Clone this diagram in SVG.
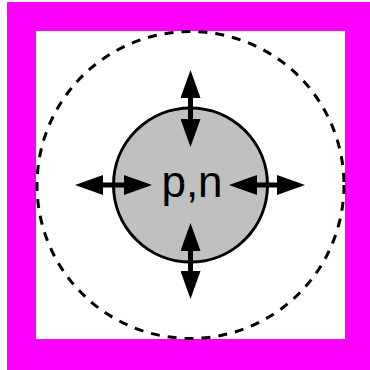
<svg xmlns="http://www.w3.org/2000/svg" width="370" height="370" viewBox="0 0 370 370">
  <style>
    .frame { fill: #ff00ff; fill-rule: evenodd; }
    .outer { fill: none; stroke: #000; stroke-width: 3; stroke-dasharray: 9 8; }
    .core { fill: #c0c0c0; stroke: #000; stroke-width: 3; }
    .label { font-family: "Liberation Sans", Arial, sans-serif; font-size: 44px; fill: #000; text-anchor: middle; }
    .arrow { stroke: #000; stroke-width: 5; fill: none; marker-start: url(#head); marker-end: url(#head); }
  </style>
  <defs>
    <marker id="head" markerUnits="userSpaceOnUse" markerWidth="28" markerHeight="20" refX="18" refY="10" orient="auto-start-reverse" viewBox="0 0 28 20">
      <path d="M0,0 L28,10 L0,20 Z" fill="#000"/>
    </marker>
  </defs>
  <path class="frame" d="M7,2 H370 V370 H7 Z M36,31 V339 H345 V31 Z"/>
  <g id="region">
    <circle class="outer" cx="190.5" cy="185" r="153.5"/>
  </g>
  <g id="nucleus">
    <circle class="core" cx="190.5" cy="185" r="77"/>
    <text class="label" x="192" y="197">p,n</text>
  </g>
  <g id="connectors">
    <line class="arrow" x1="190.5" y1="80" x2="190.5" y2="137"/>
    <line class="arrow" x1="190.5" y1="233" x2="190.5" y2="289"/>
    <line class="arrow" x1="85" y1="185" x2="142" y2="185"/>
    <line class="arrow" x1="239" y1="185" x2="295" y2="185"/>
  </g>
</svg>
